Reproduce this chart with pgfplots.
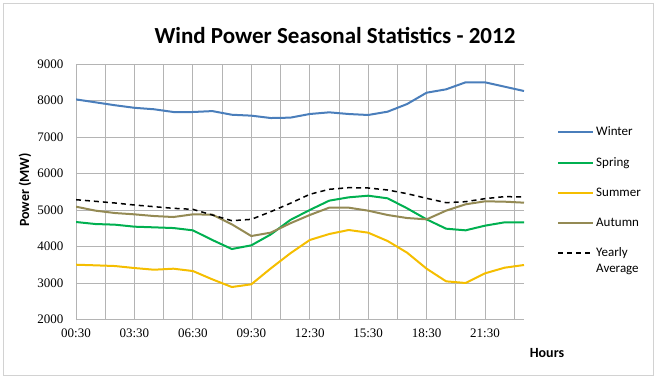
\documentclass[border=0pt]{standalone}
\usepackage{pgfplots}
\pgfplotsset{compat=1.18}
\usepackage{fontspec}
\setmainfont{Carlito}
\newfontfamily\tickfont{Liberation Serif}

\definecolor{winter}{HTML}{4A7EBB}
\definecolor{spring}{HTML}{00B050}
\definecolor{summer}{HTML}{F5BE00}
\definecolor{autumn}{HTML}{948A54}
\definecolor{gridc}{HTML}{B4B4B4}

\pgfplotsset{raisedlegend/.style={legend image code/.code={\draw[##1] (0pt,8pt) -- (35pt,8pt);}}}

\begin{document}
\begin{tikzpicture}
\useasboundingbox (0,0) rectangle (656pt,378pt);
\draw[gray!35] (3pt,3pt) rectangle (653pt,375pt);

\begin{axis}[
    at={(76pt,58.5pt)}, anchor=south west,
    scale only axis,
    width=448pt, height=255.5pt,
    xmin=0.5, xmax=23.5,
    ymin=2000, ymax=9000,
    axis lines*=left,
    axis line style={gridc, line width=0.8pt},
    xtick={0.5,3.5,...,21.5},
    xticklabels={00:30,03:30,06:30,09:30,12:30,15:30,18:30,21:30},
    minor xtick={2,5,...,23},
    ytick={2000,3000,...,9000},
    grid=both,
    major grid style={gridc, line width=0.8pt},
    minor grid style={gridc, line width=0.8pt},
    major tick length=0pt, minor tick length=0pt,
    ticklabel style={font=\tickfont\fontsize{13}{15}\selectfont},
    /pgf/number format/1000 sep={},
    /pgf/number format/assume math mode=true,
    yticklabel style={xshift=-9pt},
    xticklabel style={yshift=-6pt},
    legend style={at={(1.067,0.77)}, anchor=north west, draw=none, fill=none,
        font=\fontsize{13}{16}\selectfont, row sep=16pt,
        cells={anchor=west, align=left}},
    legend image code/.code={\draw[#1] (0pt,0pt) -- (35pt,0pt);},
    every axis plot/.append style={line width=2pt, line join=round},
]
\addplot[winter] coordinates {
(0.5,8030) (1.5,7950) (2.5,7870) (3.5,7800) (4.5,7760) (5.5,7685)
(6.5,7685) (7.5,7710) (8.5,7610) (9.5,7585) (10.5,7520) (11.5,7530)
(12.5,7630) (13.5,7676) (14.5,7630) (15.5,7603) (16.5,7694) (17.5,7904)
(18.5,8214) (19.5,8306) (20.5,8498) (21.5,8498) (22.5,8379) (23.5,8260)};
\addlegendentry{Winter}
\addplot[spring] coordinates {
(0.5,4671) (1.5,4616) (2.5,4598) (3.5,4543) (4.5,4525) (5.5,4506)
(6.5,4443) (7.5,4178) (8.5,3931) (9.5,4032) (10.5,4330) (11.5,4726)
(12.5,5000) (13.5,5256) (14.5,5347) (15.5,5392) (16.5,5320) (17.5,5046)
(18.5,4744) (19.5,4488) (20.5,4443) (21.5,4571) (22.5,4662) (23.5,4662)};
\addlegendentry{Spring}
\addplot[summer] coordinates {
(0.5,3501) (1.5,3484) (2.5,3465) (3.5,3410) (4.5,3364) (5.5,3392)
(6.5,3328) (7.5,3100) (8.5,2890) (9.5,2964) (10.5,3400) (11.5,3812)
(12.5,4178) (13.5,4342) (14.5,4452) (15.5,4379) (16.5,4150) (17.5,3830)
(18.5,3392) (19.5,3046) (20.5,3000) (21.5,3265) (22.5,3419) (23.5,3493)};
\addlegendentry{Summer}
\addplot[autumn] coordinates {
(0.5,5091) (1.5,4982) (2.5,4917) (3.5,4881) (4.5,4835) (5.5,4808)
(6.5,4881) (7.5,4872) (8.5,4608) (9.5,4287) (10.5,4380) (11.5,4635)
(12.5,4863) (13.5,5064) (14.5,5064) (15.5,4982) (16.5,4863) (17.5,4780)
(18.5,4744) (19.5,4982) (20.5,5156) (21.5,5238) (22.5,5228) (23.5,5201)};
\addlegendentry{Autumn}
\addplot[black, line width=1.5pt, dash pattern=on 5pt off 4pt, raisedlegend] coordinates {
(0.5,5282) (1.5,5238) (2.5,5192) (3.5,5137) (4.5,5091) (5.5,5046)
(6.5,5018) (7.5,4863) (8.5,4707) (9.5,4744) (10.5,4954) (11.5,5183)
(12.5,5430) (13.5,5567) (14.5,5612) (15.5,5603) (16.5,5548) (17.5,5447)
(18.5,5320) (19.5,5201) (20.5,5228) (21.5,5311) (22.5,5366) (23.5,5357)};
\addlegendentry{Yearly\\Average}
\end{axis}

\node[font=\fontsize{23}{26}\selectfont\bfseries] at (335pt,342pt) {Wind Power Seasonal Statistics - 2012};
\node[font=\fontsize{14}{16}\selectfont\bfseries, rotate=90] at (25pt,188pt) {Power (MW)};
\node[font=\fontsize{14}{16}\selectfont\bfseries] at (547pt,25pt) {Hours};
\end{tikzpicture}
\end{document}
